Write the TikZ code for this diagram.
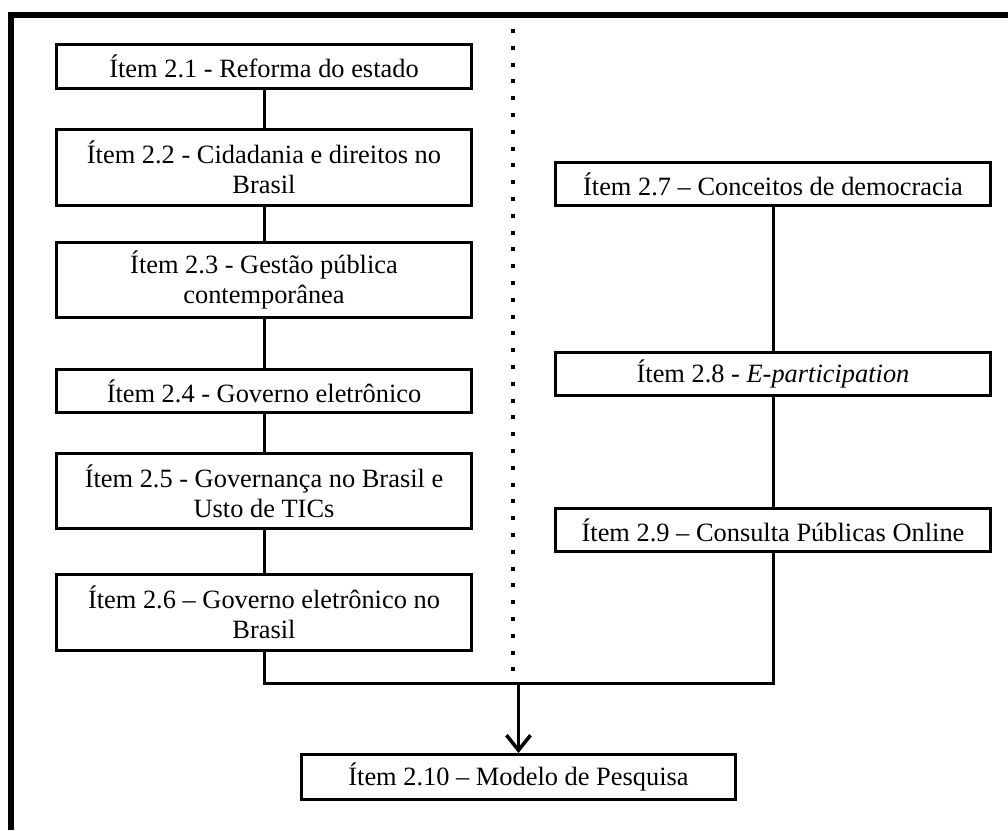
\documentclass[tikz,border=0pt]{standalone}
\usepackage{fontspec}
\setmainfont{Liberation Serif}
\usetikzlibrary{arrows.meta}
\begin{document}
\begin{tikzpicture}[x=1pt,y=1pt,
  itembox/.style={draw, line width=3pt, inner sep=0pt, align=center,
    font=\fontsize{26.4}{30}\selectfont},
  leftbox/.style={itembox, minimum width=415pt},
  rightbox/.style={itembox, minimum width=435pt},
  link/.style={line width=3pt},
  flowarrow/.style={line width=3.5pt, -{Straight Barb[length=15pt,width=24pt]}}]
\useasboundingbox (0,0) rectangle (1008,-830);
\fill[white] (0,0) rectangle (1008,-830);

% open frame: top and left edges only
\draw[line width=6pt, line join=miter] (11,-830) -- (11,-15) -- (1008,-15);

% dotted separator between the two columns
\draw[line width=4pt, dash pattern=on 4pt off 12.8pt] (513,-29) -- (513,-671);

% left column
\node[leftbox, minimum height=44pt] (n21) at (264,-66.5) {Ítem 2.1 - Reforma do estado};
\node[leftbox, minimum height=76pt] (n22) at (264,-167.5) {Ítem 2.2 - Cidadania e direitos no\\Brasil};
\node[leftbox, minimum height=75pt] (n23) at (264,-280) {Ítem 2.3 - Gestão pública\\contemporânea};
\node[leftbox, minimum height=43pt] (n24) at (264,-391) {Ítem 2.4 - Governo eletrônico};
\node[leftbox, minimum height=75pt] (n25) at (264,-491) {Ítem 2.5 - Governança no Brasil e\\Usto de TICs};
\node[leftbox, minimum height=76pt] (n26) at (264,-612.5) {Ítem 2.6 – Governo eletrônico no\\Brasil};

% right column
\node[rightbox, minimum height=43pt] (n27) at (773,-184) {Ítem 2.7 – Conceitos de democracia};
\node[rightbox, minimum height=43pt] (n28) at (773,-374) {Ítem 2.8 - \textit{E-participation}};
\node[rightbox, minimum height=43pt] (n29) at (773,-530) {Ítem 2.9 – Consulta Públicas Online};

% result
\node[itembox, minimum width=434pt, minimum height=45pt] (n210) at (518.5,-777) {Ítem 2.10 – Modelo de Pesquisa};

% connectors
\draw[link] (n21) -- (n22);
\draw[link] (n22) -- (n23);
\draw[link] (n23) -- (n24);
\draw[link] (n24) -- (n25);
\draw[link] (n25) -- (n26);
\draw[link] (n27) -- (n28);
\draw[link] (n28) -- (n29);

\coordinate (merge) at (518.5,-683);
\draw[link, line join=miter] (n26.south) |- (merge) -| (n29.south);
\draw[flowarrow] (merge) -- (n210.north);
\end{tikzpicture}
\end{document}
